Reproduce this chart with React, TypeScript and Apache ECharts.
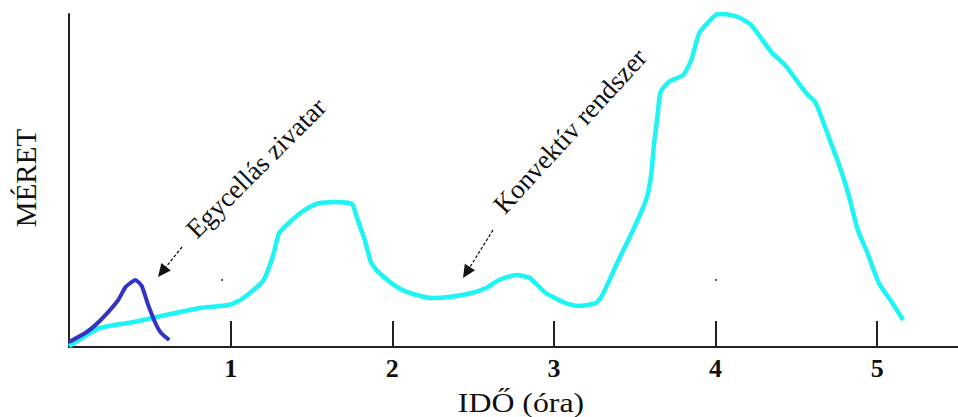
import React, { useEffect, useRef } from "react";
import * as echarts from "echarts";

// Cyan curve: convective system (x = hours, y = relative size)
const cyanX = [0.0, 0.09, 0.19, 0.4, 0.6, 0.81, 0.99, 1.07, 1.2, 1.26, 1.3, 1.36, 1.44, 1.53, 1.64, 1.75, 1.78, 1.83, 1.87, 1.92, 2.04, 2.15, 2.25, 2.35, 2.49, 2.58, 2.66, 2.77, 2.85, 2.95, 3.07, 3.15, 3.26, 3.3, 3.4, 3.49, 3.57, 3.6, 3.62, 3.64, 3.66, 3.71, 3.8, 3.85, 3.9, 4.0, 4.05, 4.14, 4.22, 4.35, 4.43, 4.56, 4.62, 4.7, 4.76, 4.82, 4.88, 4.94, 5.01, 5.09, 5.16];
const cyanY = [1, 10, 19, 25, 32, 39, 42, 48, 66, 90, 114, 124, 135, 143, 145, 143, 130, 107, 84, 74, 59, 52, 49, 50, 54, 59, 67, 72, 69, 54, 44, 41, 44, 52, 87, 117, 147, 170, 204, 230, 255, 265, 272, 287, 314, 332, 333, 330, 322, 294, 282, 254, 244, 210, 184, 154, 117, 94, 64, 45, 27];

// Dark blue curve: single-cell thunderstorm
const blueX = [0.0, 0.11, 0.19, 0.3, 0.35, 0.38, 0.41, 0.45, 0.49, 0.54, 0.57, 0.62];
const blueY = [5, 15, 26, 46, 60, 64, 67, 61, 42, 22, 14, 7];

const xTicks = [1, 2, 3, 4, 5];
const xTitle = "IDŐ (óra)";
const yTitle = "MÉRET";
const note1 = "Egycellás zivatar";
const note2 = "Konvektív rendszer";

const SERIF = '"Liberation Serif", "Times New Roman", serif';

export default function App() {
  const ref = useRef<HTMLDivElement>(null);
  useEffect(() => {
    if (!ref.current) return;
    const chart = echarts.init(ref.current, undefined, { renderer: "svg" });
    const deg = Math.PI / 180;
    chart.setOption({
      animation: false,
      backgroundColor: "#ffffff",
      grid: { left: 69, top: 14, width: 891, height: 333 },
      xAxis: {
        type: "value",
        min: 0,
        max: 5.5,
        interval: 1,
        axisLine: { show: true, lineStyle: { color: "#222", width: 2 } },
        axisTick: {
          show: true,
          inside: true,
          length: 26,
          customValues: xTicks,
          lineStyle: { color: "#222", width: 2 },
        },
        axisLabel: {
          customValues: xTicks,
          margin: 8,
          fontFamily: SERIF,
          fontSize: 26,
          fontWeight: "bold",
          color: "#111",
        },
        splitLine: { show: false },
      },
      yAxis: {
        type: "value",
        min: 0,
        max: 333,
        axisLine: { show: true, lineStyle: { color: "#222", width: 2 } },
        axisTick: { show: false },
        axisLabel: { show: false },
        splitLine: { show: false },
      },
      series: [
        {
          type: "line",
          data: cyanX.map((x, i) => [x, cyanY[i]]),
          showSymbol: false,
          smooth: 0.2,
          lineStyle: { color: "#1ef4f4", width: 4.5 },
        },
        {
          type: "line",
          data: blueX.map((x, i) => [x, blueY[i]]),
          showSymbol: false,
          smooth: 0.2,
          lineStyle: { color: "#3434c4", width: 4 },
        },
      ],
      graphic: [
        {
          type: "text",
          x: 26,
          y: 178,
          rotation: Math.PI / 2,
          style: {
            text: yTitle,
            fontFamily: SERIF,
            fontSize: 29,
            fill: "#111",
            align: "center",
            verticalAlign: "middle",
          },
        },
        {
          type: "text",
          x: 521,
          y: 403,
          scaleX: 1.18,
          style: {
            text: xTitle,
            fontFamily: SERIF,
            fontSize: 27,
            fill: "#111",
            align: "center",
            verticalAlign: "middle",
          },
        },
        {
          type: "text",
          x: 256,
          y: 168,
          rotation: 45 * deg,
          style: {
            text: note1,
            fontFamily: SERIF,
            fontSize: 27,
            fill: "#111",
            align: "center",
            verticalAlign: "middle",
          },
        },
        {
          type: "text",
          x: 570,
          y: 131,
          rotation: 47.5 * deg,
          style: {
            text: note2,
            fontFamily: SERIF,
            fontSize: 27,
            fill: "#111",
            align: "center",
            verticalAlign: "middle",
          },
        },
        {
          type: "line",
          shape: { x1: 182, y1: 247, x2: 166, y2: 267 },
          style: { stroke: "#111", lineWidth: 1.3, lineDash: [3, 2] },
        },
        {
          type: "polygon",
          shape: { points: [[158, 277], [170.8, 270.6], [161.4, 263.1]] },
          style: { fill: "#111" },
        },
        {
          type: "line",
          shape: { x1: 493, y1: 230, x2: 470, y2: 267 },
          style: { stroke: "#111", lineWidth: 1.3, lineDash: [3, 2] },
        },
        {
          type: "polygon",
          shape: { points: [[463, 278], [475, 270.2], [464.8, 263.8]] },
          style: { fill: "#111" },
        },
        { type: "circle", shape: { cx: 222, cy: 280, r: 1 }, style: { fill: "#333" } },
        { type: "circle", shape: { cx: 716, cy: 280, r: 1 }, style: { fill: "#333" } },
      ],
    });
    return () => chart.dispose();
  }, []);
  return (
    <div
      ref={ref}
      style={{ width: 958, height: 417, position: "absolute", left: 0, top: 0 }}
    />
  );
}
